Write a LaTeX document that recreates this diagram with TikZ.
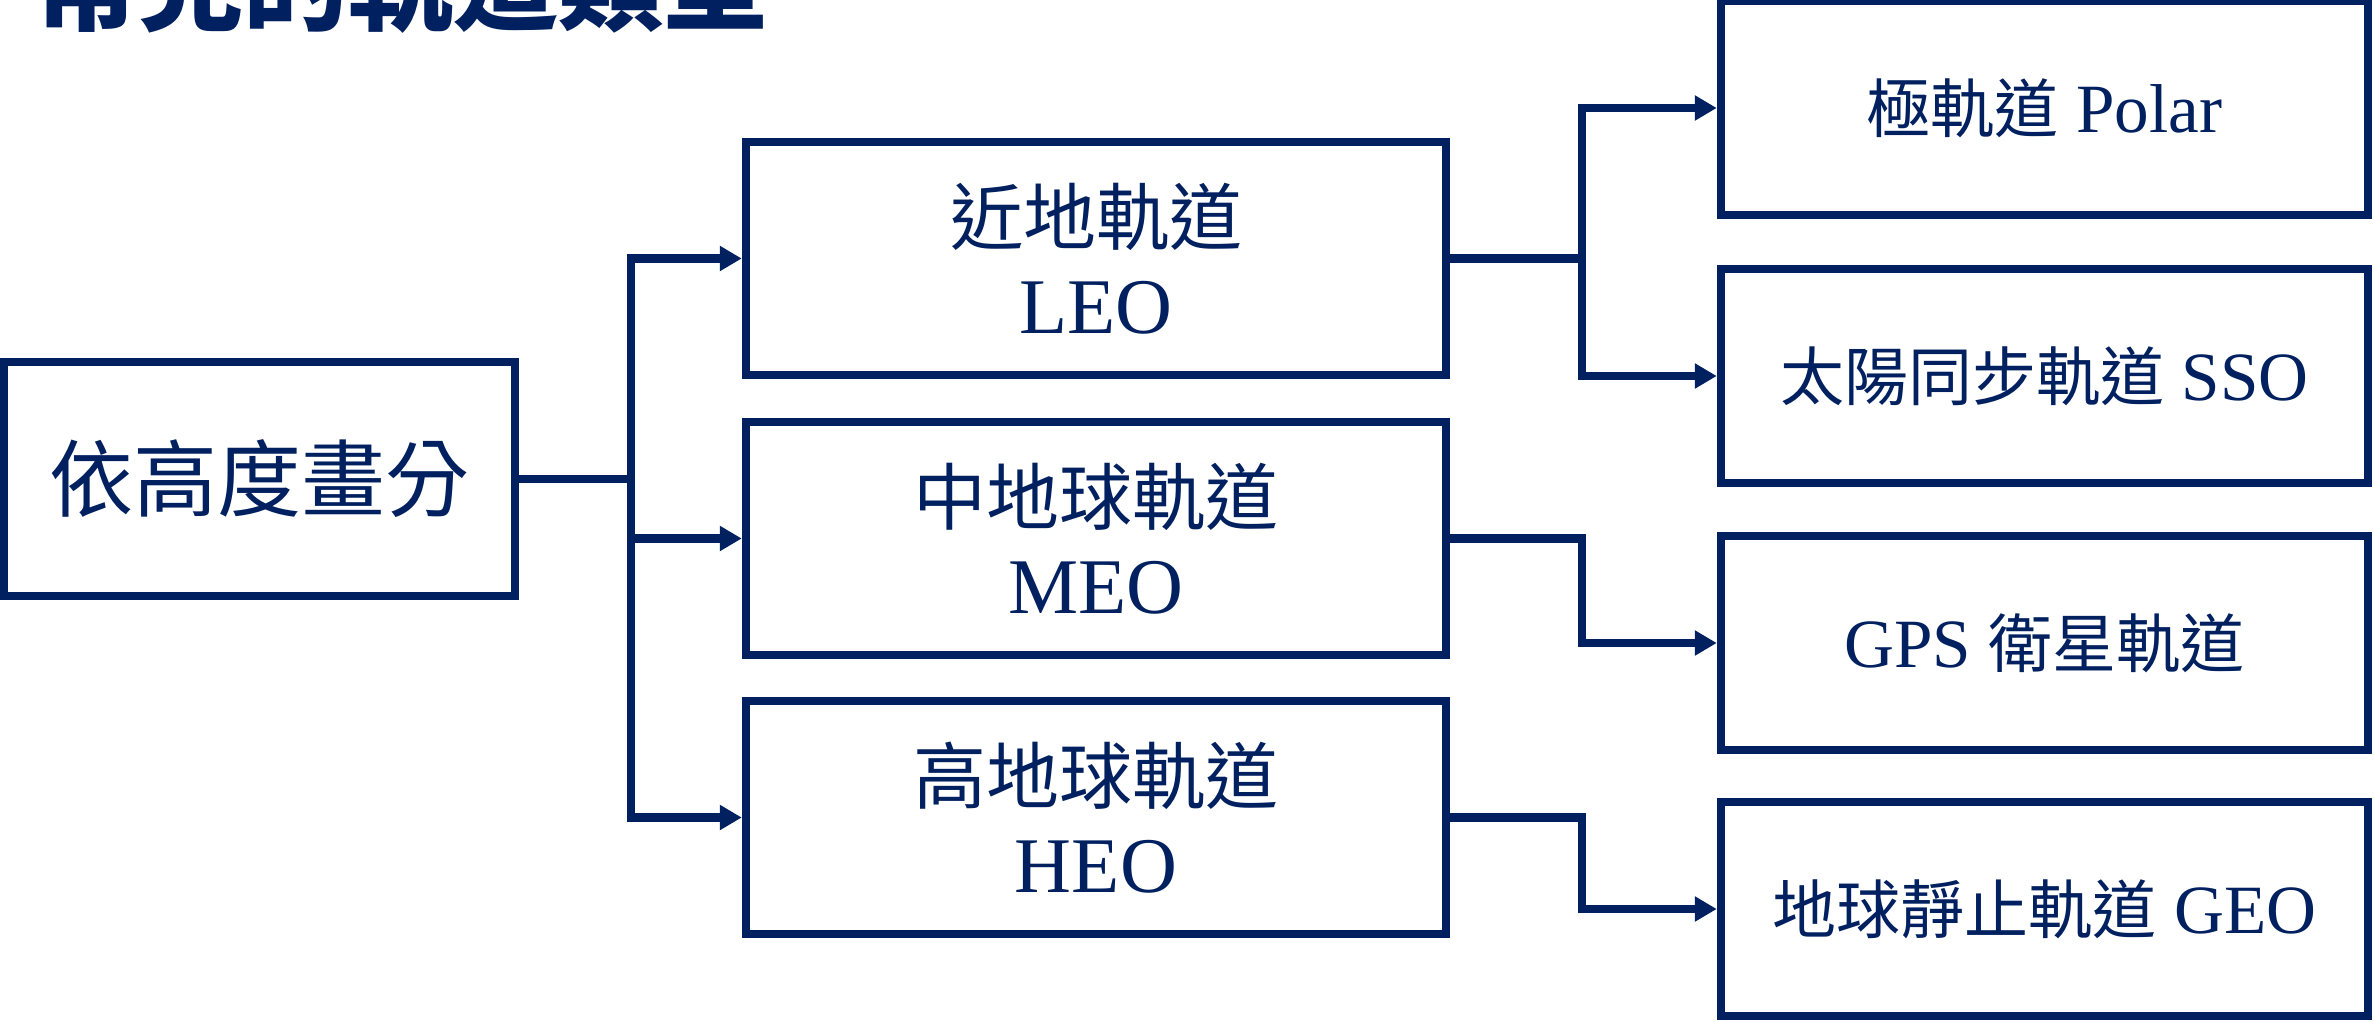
\documentclass[tikz,border=0pt]{standalone}
\usepackage{fontspec}
\setmainfont{Liberation Serif}[Scale=1.08]
\newfontfamily\cjk{Noto Sans CJK TC}
\usetikzlibrary{arrows.meta}
\definecolor{navy}{RGB}{0,32,96}
\newcommand{\zh}[1]{{\cjk #1}}
\begin{document}
\begin{tikzpicture}[x=1pt,y=-1pt,
  box/.style={draw=navy, line width=8.5pt, text=navy, align=center, inner sep=0pt, fill=white},
  rootbox/.style={box, minimum width=511pt, minimum height=234pt, font=\fontsize{84}{100}\selectfont},
  mid/.style={box, minimum width=700pt, minimum height=233pt, font=\fontsize{73}{89}\selectfont},
  leaf/.style={box, minimum width=647pt, minimum height=214pt, font=\fontsize{64}{77}\selectfont},
  conn/.style={draw=navy, line width=8.5pt, line join=miter},
  arr/.style={conn, -{Triangle[length=22pt,width=24pt]}}]
\useasboundingbox (0,0) rectangle (2374,1021);
\fill[white] (0,0) rectangle (2374,1021);
% title (cut off at the top)
\node[anchor=base west, inner sep=0pt, text=navy, font=\fontsize{105}{105}\cjk\bfseries] (title) at (33,22) {常見的軌道類型};
% boxes
\node[rootbox] (root) at (259.5,479) {\zh{依高度畫分}};
\node[mid] (leo) at (1096,258.5) {\zh{近地軌道}\\LEO};
\node[mid] (meo) at (1096,538.5) {\zh{中地球軌道}\\MEO};
\node[mid] (heo) at (1096,817.5) {\zh{高地球軌道}\\HEO};
\node[leaf] (polar) at (2044.5,108) {\zh{極軌道} Polar};
\node[leaf] (sso) at (2044.5,376) {\zh{太陽同步軌道} SSO};
\node[leaf] (gps) at (2044.5,643) {GPS \zh{衛星軌道}};
\node[leaf] (geo) at (2044.5,909) {\zh{地球靜止軌道} GEO};
% junctions
\coordinate (t) at (631,479);
\coordinate (b1) at (1582,258.5);
\coordinate (b2) at (1582,538.5);
\coordinate (b3) at (1582,817.5);
% connectors
\draw[conn] (root.east) -- (t);
\draw[arr] (t) |- (leo.west);
\draw[arr] (t) |- (meo.west);
\draw[arr] (t) |- (heo.west);
\draw[conn] (leo.east) -- (b1);
\draw[arr] (b1) |- (polar.west);
\draw[arr] (b1) |- (sso.west);
\draw[arr] (meo.east) -- (b2) |- (gps.west);
\draw[arr] (heo.east) -- (b3) |- (geo.west);
\end{tikzpicture}
\end{document}
